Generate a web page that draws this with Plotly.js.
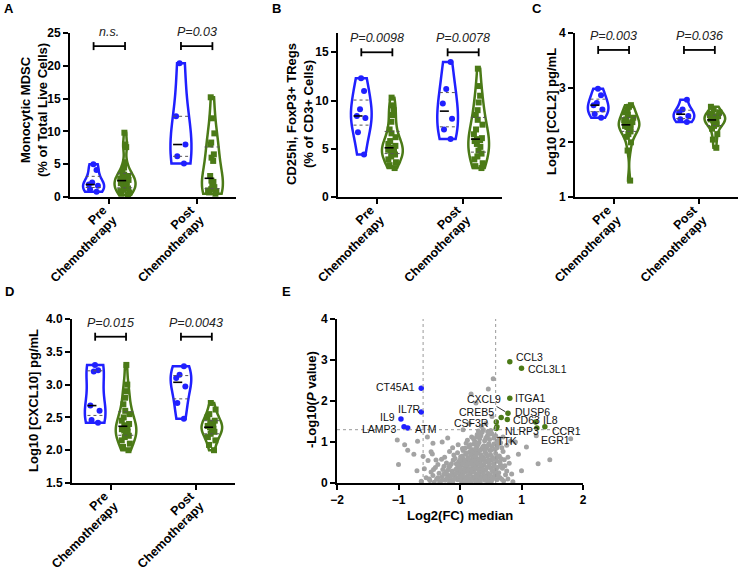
<!DOCTYPE html>
<html><head><meta charset="utf-8">
<script src="https://cdn.plot.ly/plotly-3.0.1.min.js"></script>
<style>html,body{margin:0;padding:0;background:#fff}#chart{width:740px;height:569px;position:absolute;left:0;top:0}
#labels{position:absolute;left:0;top:0;width:740px;height:569px;pointer-events:none}</style>
</head><body><div id="chart"></div>
<svg id="labels" width="740" height="569" xmlns="http://www.w3.org/2000/svg"></svg>
<script>
// ---------- DATA ----------
const groupNames = ['Pre', 'Post'];
const groupSubtitle = 'Chemotherapy';

// Panel A: Monocytic MDSC (% of total live cells)
const aPreBlue   = [0.8, 1.2, 1.7, 1.9, 2.2, 4.1, 5.0];
const aPreGreen  = [0.3, 0.5, 0.7, 0.9, 1.1, 1.3, 1.5, 1.7, 1.9, 2.1, 2.3, 2.5, 2.6, 2.8, 3.0, 3.2, 3.4, 3.8, 4.5, 5.3, 7.6, 8.0, 9.8];
const aPostBlue  = [5.1, 6.2, 8.0, 12.3, 20.4];
const aPostGreen = [0.5, 0.7, 0.9, 1.0, 1.2, 1.5, 2.0, 2.3, 2.5, 3.2, 5.5, 6.0, 6.5, 8.0, 8.3, 9.7, 12.0, 15.2];

// Panel B: CD25hi FoxP3+ TRegs (% of CD3+ cells)
const bPreBlue   = [4.4, 6.7, 8.2, 8.4, 9.1, 11.0, 12.3];
const bPreGreen  = [3.0, 3.3, 3.6, 3.9, 4.2, 4.4, 4.6, 4.7, 4.8, 4.9, 5.0, 5.1, 5.3, 5.5, 5.8, 6.2, 6.6, 7.0, 7.8, 8.5, 9.0, 9.5, 10.3];
const bPostBlue  = [6.0, 7.0, 8.1, 9.7, 11.2, 14.0];
const bPostGreen = [3.0, 3.2, 3.5, 3.9, 4.2, 4.5, 4.8, 5.2, 5.5, 5.8, 5.9, 6.0, 6.1, 6.5, 7.0, 7.5, 8.0, 8.5, 9.0, 9.8, 10.5, 11.5, 13.3];

// Panel C: Log10 [CCL2]
const cPreBlue   = [2.45, 2.52, 2.6, 2.68, 2.72, 2.86, 2.98];
const cPreGreen  = [1.3, 1.85, 2.0, 2.1, 2.15, 2.2, 2.23, 2.26, 2.28, 2.3, 2.32, 2.35, 2.37, 2.4, 2.42, 2.45, 2.5, 2.55, 2.6, 2.65, 2.68];
const cPostBlue  = [2.37, 2.42, 2.48, 2.55, 2.6, 2.78];
const cPostGreen = [1.9, 2.05, 2.15, 2.25, 2.3, 2.33, 2.36, 2.38, 2.4, 2.42, 2.44, 2.46, 2.48, 2.5, 2.52, 2.55, 2.6, 2.65];

// Panel D: Log10 [CXCL10]
const dPreBlue   = [2.42, 2.46, 2.6, 2.68, 3.2, 3.22, 3.3];
const dPreGreen  = [2.0, 2.05, 2.1, 2.15, 2.2, 2.22, 2.25, 2.28, 2.3, 2.32, 2.35, 2.38, 2.4, 2.45, 2.5, 2.55, 2.6, 2.7, 2.8, 2.9, 3.0, 3.3];
const dPostBlue  = [2.48, 2.72, 2.97, 3.1, 3.15, 3.28];
const dPostGreen = [2.0, 2.08, 2.15, 2.2, 2.25, 2.28, 2.3, 2.32, 2.35, 2.37, 2.4, 2.42, 2.45, 2.5, 2.55, 2.62, 2.72];

// Significance brackets
const bracketLevel = [23, 15, 3.69, 3.73];
const pLabels = [['n.s.', 'P=0.03'], ['P=0.0098', 'P=0.0078'], ['P=0.003', 'P=0.036'], ['P=0.015', 'P=0.0043']];

// Panel E: volcano
const blueGenes = ['CT45A1', 'IL7R', 'IL9', 'LAMP3', 'ATM'];
const blueFC    = [-0.63, -0.63, -0.96, -0.91, -0.85];
const blueP     = [2.31, 1.73, 1.56, 1.37, 1.34];
const greenGenes = ['CCL3', 'CCL3L1', 'ITGA1', 'DUSP6', 'CREB5', 'CD63', 'CSF3R', 'NLRP3', 'NLRP3b', 'IL8', 'CCR1', 'EGR1'];
const greenFC    = [0.81, 1.0, 0.81, 0.78, 0.67, 0.77, 0.59, 0.6, 0.59, 1.23, 1.38, 1.25];
const greenP     = [2.96, 2.8, 2.07, 1.7, 1.6, 1.55, 1.49, 1.37, 1.33, 1.49, 1.37, 1.34];
const grayPoints = [
 [-0.63,0.04],[-0.55,0.13],[-0.49,0.06],[-0.44,0.18],[-0.38,0.09],[-0.33,0.02],[-0.29,0.15],[-0.24,0.07],[-0.2,0.2],[-0.16,0.11],
 [-0.12,0.03],[-0.08,0.16],[-0.04,0.08],[0.0,0.19],[0.03,0.02],[0.06,0.12],[0.09,0.05],[0.12,0.17],[0.15,0.09],[0.18,0.01],
 [0.21,0.14],[0.24,0.06],[0.27,0.19],[0.3,0.1],[0.33,0.03],[0.36,0.15],[0.4,0.07],[0.43,0.18],[0.47,0.11],[0.51,0.04],
 [0.55,0.16],[0.6,0.08],[0.65,0.13],[0.71,0.05],[0.78,0.1],[0.86,0.03],
 [-0.58,0.35],[-0.47,0.27],[-0.4,0.38],[-0.34,0.24],[-0.28,0.33],[-0.23,0.26],[-0.18,0.39],[-0.13,0.29],[-0.09,0.22],[-0.05,0.36],
 [-0.01,0.27],[0.02,0.31],[0.05,0.23],[0.08,0.38],[0.11,0.28],[0.14,0.34],[0.17,0.24],[0.2,0.37],[0.23,0.29],[0.26,0.22],
 [0.29,0.35],[0.32,0.27],[0.35,0.39],[0.38,0.25],[0.42,0.32],[0.46,0.23],[0.5,0.37],[0.54,0.28],[0.58,0.33],[0.63,0.25],
 [0.69,0.36],[0.76,0.29],[0.84,0.22],
 [-0.52,0.55],[-0.36,0.45],[-0.3,0.58],[-0.22,0.49],[-0.16,0.42],[-0.11,0.56],[-0.06,0.47],[-0.02,0.52],[0.02,0.43],[0.06,0.58],
 [0.09,0.48],[0.12,0.41],[0.15,0.54],[0.18,0.46],[0.21,0.59],[0.24,0.5],[0.27,0.43],[0.3,0.55],[0.33,0.47],[0.36,0.57],
 [0.39,0.44],[0.43,0.52],[0.47,0.41],[0.51,0.56],[0.55,0.47],[0.6,0.53],[0.66,0.44],[0.72,0.57],[0.8,0.48],
 [-0.6,0.65],[-0.45,0.71],[-0.25,0.63],[-0.17,0.77],[-0.1,0.68],[-0.04,0.74],[0.01,0.64],[0.05,0.79],[0.09,0.7],[0.13,0.62],
 [0.16,0.76],[0.2,0.67],[0.23,0.73],[0.27,0.61],[0.3,0.78],[0.34,0.69],[0.37,0.64],[0.41,0.75],[0.45,0.66],[0.49,0.79],
 [0.53,0.62],[0.58,0.72],[0.64,0.66],[0.7,0.77],[0.78,0.63],
 [-0.12,0.86],[-0.03,0.93],[0.04,0.84],[0.1,0.97],[0.14,0.88],[0.19,0.82],[0.23,0.95],[0.27,0.87],[0.31,0.99],[0.35,0.83],
 [0.39,0.91],[0.43,0.85],[0.47,0.96],[0.52,0.89],[0.57,0.82],[0.62,0.94],[0.68,0.86],[0.76,0.92],
 [0.12,1.04],[0.19,1.12],[0.24,1.02],[0.28,1.18],[0.32,1.08],[0.36,1.24],[0.4,1.03],[0.44,1.14],[0.48,1.06],[0.52,1.2],
 [0.55,1.1],[0.6,1.02],[0.38,1.3],[0.3,1.27],
 [-1.0,0.45],[-1.02,1.05],[-0.9,0.93],[-0.85,0.8],[-0.75,0.7],[-0.69,1.02],[-0.53,1.12],[-0.44,0.97],[-0.47,0.76],[-0.39,0.56],
 [-0.29,1.0],[-0.7,0.3],[-0.2,1.1],
 [1.8,1.08],[1.46,0.57],[1.27,0.47],[1.24,1.15],[1.08,0.88],[0.9,1.0],[0.82,1.02],[0.95,0.7],[1.0,0.3],
 [0.18,2.17],[0.26,1.95],[0.46,2.29],[0.54,2.54],[0.52,1.62],[0.42,1.45],[0.15,1.45],[0.35,1.38],[0.05,1.3]
];
const grayCorePoints = [
 [-0.5,0.1],[-0.42,0.02],[-0.36,0.13],[-0.3,0.06],[-0.26,0.22],[-0.21,0.12],[-0.17,0.03],[-0.14,0.19],[-0.1,0.09],[-0.06,0.24],
 [-0.02,0.13],[0.01,0.07],[0.04,0.17],[0.07,0.27],[0.1,0.13],[0.13,0.04],[0.16,0.21],[0.19,0.11],[0.22,0.27],[0.25,0.15],
 [0.28,0.05],[0.31,0.2],[0.34,0.12],[0.37,0.26],[0.41,0.14],[0.45,0.03],[0.49,0.2],[0.53,0.1],[0.57,0.24],[0.62,0.17],
 [0.68,0.09],[0.74,0.2],
 [-0.43,0.33],[-0.26,0.41],[-0.2,0.31],[-0.14,0.47],[-0.07,0.33],[-0.03,0.43],[0.0,0.36],[0.04,0.48],[0.07,0.34],[0.1,0.44],
 [0.13,0.31],[0.16,0.5],[0.19,0.33],[0.22,0.44],[0.25,0.36],[0.28,0.49],[0.31,0.31],[0.34,0.43],[0.37,0.34],[0.4,0.51],
 [0.44,0.38],[0.48,0.47],[0.52,0.31],[0.56,0.41],[0.61,0.38],[0.65,0.5],[0.73,0.42],
 [-0.08,0.6],[0.0,0.56],[0.04,0.66],[0.08,0.55],[0.11,0.73],[0.14,0.59],[0.18,0.69],[0.22,0.55],[0.25,0.65],[0.28,0.72],
 [0.32,0.58],[0.35,0.66],[0.39,0.6],[0.43,0.71],[0.46,0.56],[0.5,0.68],[0.55,0.58],[0.61,0.63],[0.67,0.59],
 [0.08,0.85],[0.17,0.93],[0.21,0.78],[0.25,0.83],[0.29,0.93],[0.33,0.8],[0.37,0.88],[0.41,0.81],[0.45,0.91],[0.5,0.8],
 [0.55,0.95],[0.6,0.86],[0.66,0.98],
 [0.22,1.08],[0.27,1.12],[0.34,1.15],[0.42,1.09],[0.47,1.18],[0.5,1.28],[0.45,1.25],[0.33,1.2],[0.58,1.15],[0.64,1.08],[0.7,1.12]
];
const fcThresholds = [-0.6, 0.58];
const pThreshold = 1.3;

// ---------- STYLE / LAYOUT ----------
const BLUE = '#2020ff', GREEN = '#4b7a17', GRAY = '#a3a3a3';
const W = 740, H = 569;
const FONT = 'Liberation Sans';
const dx = (l, r) => [l / W, r / W];
const dy = (t, b) => [1 - b / H, 1 - t / H];
const OFF = 0.18;

const panels = [
  {s: '',  sets: [aPreBlue, aPreGreen, aPostBlue, aPostGreen], xd: [70, 236],  yd: [33, 197],  yr: [0, 25],   dt: 5},
  {s: '2', sets: [bPreBlue, bPreGreen, bPostBlue, bPostGreen], xd: [338, 502], yd: [33, 197],  yr: [0, 17],   dt: 5},
  {s: '3', sets: [cPreBlue, cPreGreen, cPostBlue, cPostGreen], xd: [575, 738], yd: [33, 197],  yr: [1, 4],    dt: 1},
  {s: '4', sets: [dPreBlue, dPreGreen, dPostBlue, dPostGreen], xd: [72, 235],  yd: [319, 483], yr: [1.5, 4],  dt: 0.5, fmt: '.1f'}
];
const XR = [0.55, 2.45];

function quantile(arr, q) {
  const a = arr.slice().sort((x, y) => x - y);
  const pos = (a.length - 1) * q, lo = Math.floor(pos), hi = Math.ceil(pos);
  return a[lo] + (a[hi] - a[lo]) * (pos - lo);
}

const traces = [], annotations = [], shapes = [];
const layout = {
  width: W, height: H, margin: {l: 0, r: 0, t: 0, b: 0, autoexpand: false},
  paper_bgcolor: '#fff', plot_bgcolor: '#fff', showlegend: false,
  font: {family: FONT, color: '#000'}, violinmode: 'overlay'
};

const axisBase = {
  showline: true, linecolor: '#000', linewidth: 2, ticks: 'outside', ticklen: 5, tickwidth: 2,
  tickcolor: '#000', showgrid: false, zeroline: false, fixedrange: true, automargin: false,
  tickfont: {family: FONT, size: 12, color: '#000', weight: 'bold'}
};

function label(x, y, text, angle, size) {
  annotations.push({xref: 'paper', yref: 'paper', x: x / W, y: 1 - y / H, xanchor: 'center', yanchor: 'middle',
    showarrow: false, textangle: angle, text: text, font: {family: FONT, size: size, color: '#000'}});
}

const groupLabelAnchors = [];   // pixel ends of rotated category labels

panels.forEach((p, pi) => {
  const xa = 'x' + p.s, ya = 'y' + p.s;
  layout['xaxis' + p.s] = Object.assign({}, axisBase, {
    domain: dx(p.xd[0], p.xd[1]), anchor: ya, range: XR, tickvals: [1, 2], ticktext: ['', '']
  });
  layout['yaxis' + p.s] = Object.assign({}, axisBase, {
    domain: dy(p.yd[0], p.yd[1]), anchor: xa, range: p.yr, dtick: p.dt, tick0: p.yr[0], tickformat: p.fmt || ''
  });
  p.sets.forEach((vals, k) => {
    const g = Math.floor(k / 2) + 1;
    const isBlue = k % 2 === 0;
    const xc = g + (isBlue ? -OFF : OFF);
    const col = isBlue ? BLUE : GREEN;
    traces.push({
      type: 'violin', xaxis: xa, yaxis: ya,
      x: vals.map(() => xc), y: vals,
      width: 0.24, scalemode: 'width', spanmode: 'hard',
      line: {color: col, width: 2.5}, fillcolor: 'rgba(255,255,255,0)',
      points: 'all', pointpos: 0, jitter: 0.55,
      marker: {color: col, size: 6, symbol: isBlue ? 'circle' : 'square', line: {width: 0}},
      box: {visible: false}, meanline: {visible: false}, hoverinfo: 'y'
    });
    const med = quantile(vals, 0.5), q1 = quantile(vals, 0.25), q3 = quantile(vals, 0.75);
    traces.push({type: 'scatter', mode: 'lines', xaxis: xa, yaxis: ya, hoverinfo: 'skip',
      x: [xc - 0.09, xc + 0.09], y: [med, med], line: {color: '#000', width: 1.6, dash: 'dash'}});
    traces.push({type: 'scatter', mode: 'lines', xaxis: xa, yaxis: ya, hoverinfo: 'skip',
      x: [xc - 0.09, xc + 0.09, null, xc - 0.09, xc + 0.09], y: [q1, q1, null, q3, q3],
      line: {color: '#555', width: 1, dash: 'dot'}});
  });
  const b = bracketLevel[pi];
  const cap = (p.yr[1] - p.yr[0]) * 4 / 164;
  [1, 2].forEach((g, gi) => {
    const l = g - OFF, r = g + OFF;
    traces.push({type: 'scatter', mode: 'lines', xaxis: xa, yaxis: ya, hoverinfo: 'skip',
      x: [l, l, null, l, r, null, r, r], y: [b - cap, b + cap, null, b, b, null, b - cap, b + cap],
      line: {color: '#000', width: 1.8}});
    annotations.push({xref: xa, yref: ya, x: g, y: b, yanchor: 'bottom', yshift: 5, showarrow: false,
      text: '<i>' + pLabels[pi][gi] + '</i>', font: {family: FONT, size: 12.5, color: '#222'}});
    const tickPx = p.xd[0] + (g - XR[0]) / (XR[1] - XR[0]) * (p.xd[1] - p.xd[0]);
    groupLabelAnchors.push({x: tickPx + 5, y: p.yd[1] + 21, name: groupNames[gi]});
  });
});

// Panel E volcano
layout.xaxis5 = Object.assign({}, axisBase, {domain: dx(337, 583), anchor: 'y5', range: [-2, 2], dtick: 1, tick0: -2});
layout.yaxis5 = Object.assign({}, axisBase, {domain: dy(319, 483), anchor: 'x5', range: [0, 4], dtick: 1, tick0: 0});

fcThresholds.forEach(v => shapes.push({type: 'line', xref: 'x5', yref: 'y5', x0: v, x1: v, y0: 0, y1: 4,
  line: {color: '#999', width: 1, dash: 'dot'}}));
shapes.push({type: 'line', xref: 'x5', yref: 'y5', x0: -2, x1: 2, y0: pThreshold, y1: pThreshold,
  line: {color: '#999', width: 1, dash: 'dot'}});

const allGray = grayPoints.concat(grayCorePoints);
traces.push({type: 'scatter', mode: 'markers', xaxis: 'x5', yaxis: 'y5', hoverinfo: 'skip',
  x: allGray.map(d => d[0]), y: allGray.map(d => d[1]),
  marker: {color: GRAY, size: 5, line: {width: 0}}});
traces.push({type: 'scatter', mode: 'markers', xaxis: 'x5', yaxis: 'y5', text: blueGenes,
  x: blueFC, y: blueP, marker: {color: BLUE, size: 5.5}});
traces.push({type: 'scatter', mode: 'markers', xaxis: 'x5', yaxis: 'y5', text: greenGenes,
  x: greenFC, y: greenP, marker: {color: GREEN, size: 5.5}});

const geneLabels = [
  ['CT45A1', -0.7, 2.34, 'right'], ['IL7R', -0.6, 1.8, 'right'], ['IL9', -1.03, 1.62, 'right'],
  ['LAMP3', -1.0, 1.31, 'right'], ['ATM', -0.77, 1.31, 'left'],
  ['CCL3', 0.87, 3.07, 'left'], ['CCL3L1', 1.08, 2.78, 'left'], ['ITGA1', 0.86, 2.08, 'left'],
  ['DUSP6', 0.86, 1.73, 'left'], ['CREB5', 0.58, 1.73, 'right'], ['CSF3R', 0.5, 1.46, 'right'],
  ['CD63', 0.83, 1.53, 'left'], ['IL8', 1.32, 1.53, 'left'], ['NLRP3', 0.7, 1.26, 'left'],
  ['TTK', 0.57, 1.02, 'left'], ['CCR1', 1.46, 1.28, 'left'], ['EGR1', 1.28, 1.06, 'left']
];
geneLabels.forEach(g => annotations.push({xref: 'x5', yref: 'y5', x: g[1], y: g[2], xanchor: g[3], yanchor: 'middle',
  showarrow: false, text: g[0], font: {family: FONT, size: 10.5, color: '#111'}}));
annotations.push({xref: 'x5', yref: 'y5', x: 0.78, y: 1.7, axref: 'x5', ayref: 'y5', ax: 0.39, ay: 2.05,
  text: 'CXCL9', showarrow: true, arrowhead: 0, arrowwidth: 1, arrowcolor: '#333', standoff: 3,
  font: {family: FONT, size: 10.5, color: '#111'}});

const yTitles = [
  ['Monocytic MDSC<br>(% of Total Live Cells)', 34, 110],
  ['CD25hi, FoxP3+ TRegs<br>(% of CD3+ Cells)', 300, 114],
  ['Log10 [CCL2] pg/mL', 551, 112],
  ['Log10 [CXCL10] pg/mL', 33, 401],
  ['-Log10(<i>P</i> value)', 311, 400]
];
yTitles.forEach(t => label(t[1], t[2], '<b>' + t[0] + '</b>', -90, 13));
label(460, 515, '<b>Log2(FC) median</b>', 0, 13);

const letters = [['A', 9, 9], ['B', 276, 9], ['C', 537, 9], ['D', 9, 291], ['E', 286, 291]];
letters.forEach(l => label(l[1], l[2], '<b>' + l[0] + '</b>', 0, 13));

layout.annotations = annotations;
layout.shapes = shapes;
Plotly.newPlot('chart', traces, layout, {staticPlot: true, displayModeBar: false});

// rotated two-line category labels (right-aligned, 45 degrees)
const NS = 'http://www.w3.org/2000/svg';
const svg = document.getElementById('labels');
groupLabelAnchors.forEach(a => {
  const grp = document.createElementNS(NS, 'g');
  grp.setAttribute('transform', 'translate(' + a.x + ',' + a.y + ') rotate(-45)');
  [[a.name, -14], [groupSubtitle, 0]].forEach(t => {
    const el = document.createElementNS(NS, 'text');
    el.setAttribute('x', 0); el.setAttribute('y', t[1]); el.setAttribute('dy', '0.35em');
    el.setAttribute('text-anchor', 'end');
    el.setAttribute('font-family', FONT); el.setAttribute('font-size', '12.5');
    el.setAttribute('font-weight', 'bold'); el.setAttribute('fill', '#000');
    el.textContent = t[0];
    grp.appendChild(el);
  });
  svg.appendChild(grp);
});
</script></body></html>
